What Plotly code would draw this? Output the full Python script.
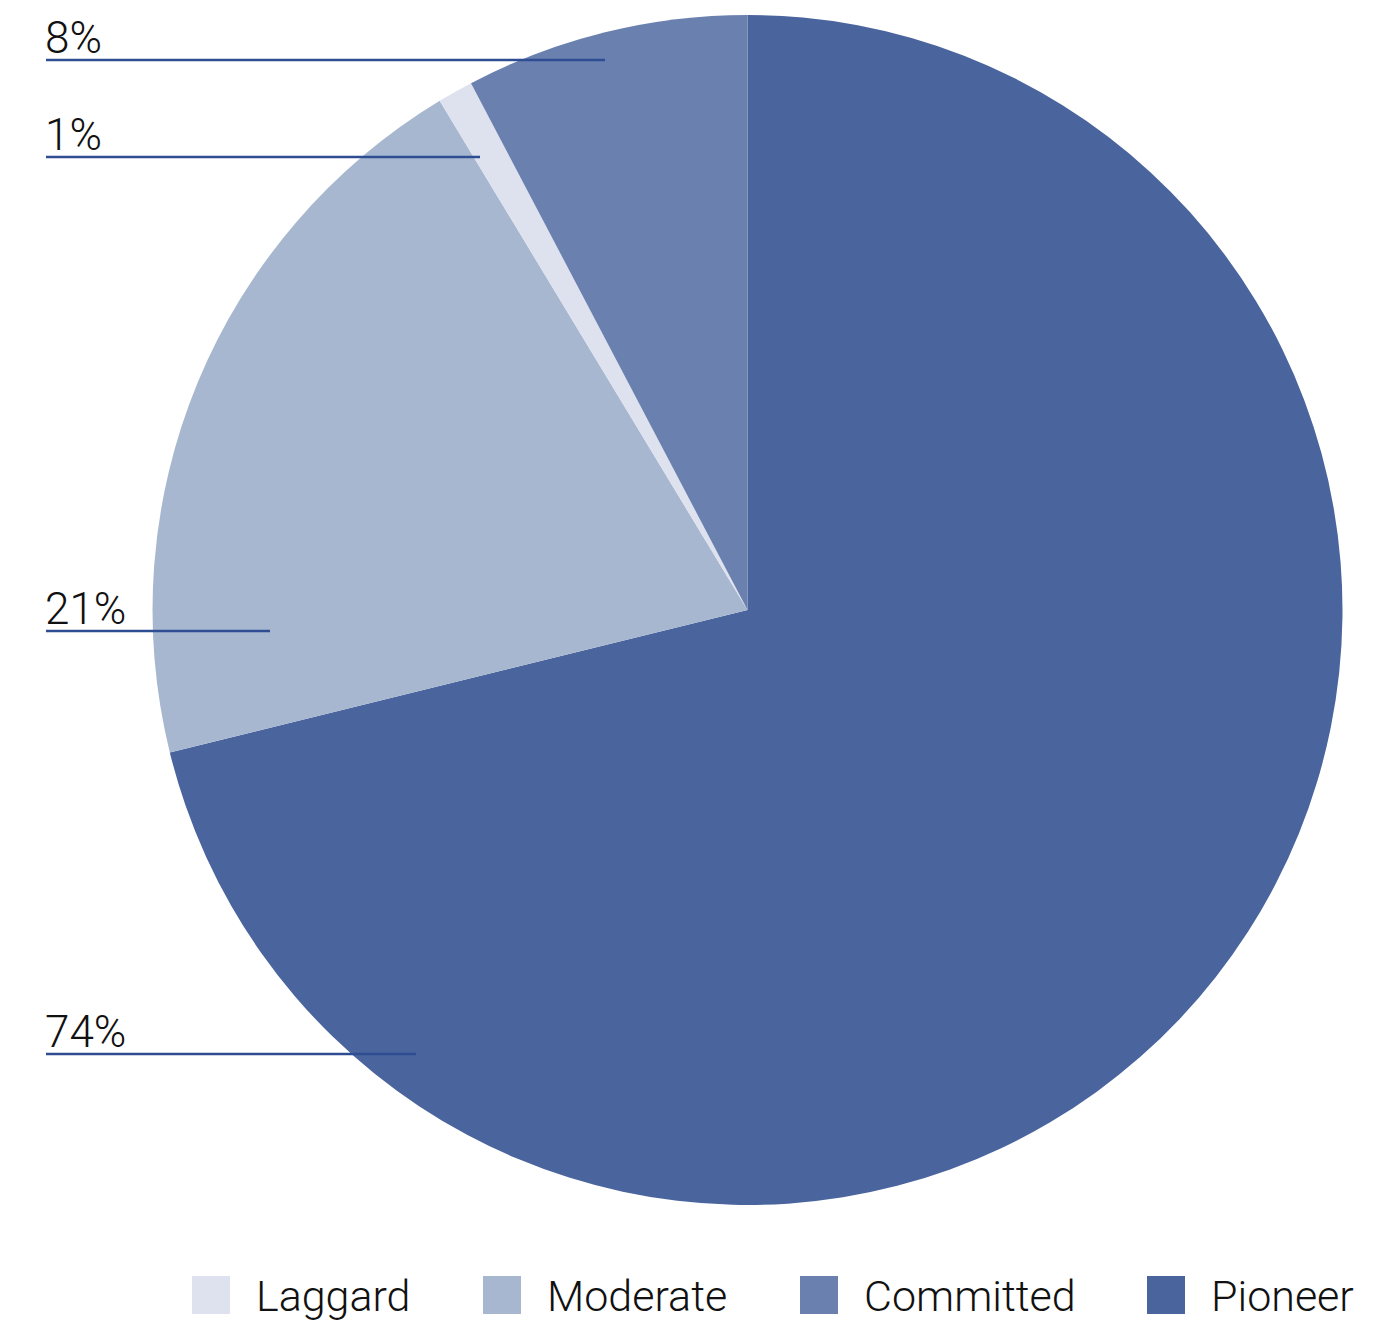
import plotly.graph_objects as go

# Share of companies by maturity segment (slices run clockwise from 12 o'clock)
segments = ["Pioneer", "Moderate", "Laggard", "Committed"]
shares = [74, 21, 1, 8]
colors = {
    "Laggard": "#dee2ee",
    "Moderate": "#a8b7d0",
    "Committed": "#6a80af",
    "Pioneer": "#4a659e",
}

# Legend order shown under the chart
legend_order = ["Laggard", "Moderate", "Committed", "Pioneer"]

W, H = 1373, 1323
FONT = "Roboto"
LINE_COLOR = "#2e4d93"


def px_x(x):
    return x / W


def px_y(y):
    return 1 - y / H


# Pie placement (pixel centre and radius)
cx, cy, r = 747.5, 610, 595

fig = go.Figure(
    go.Pie(
        labels=segments,
        values=shares,
        sort=False,
        direction="clockwise",
        rotation=0,
        marker=dict(colors=[colors[s] for s in segments], line=dict(width=0)),
        textinfo="none",
        hoverinfo="label+value",
        showlegend=False,
        domain=dict(
            x=[px_x(cx - r), px_x(cx + r)],
            y=[px_y(cy + r), px_y(cy - r)],
        ),
    )
)

# Leader lines for the percentage labels: label line height and inner end point (pixels)
label_line_y = {"Committed": 60, "Laggard": 157, "Moderate": 631, "Pioneer": 1054}
label_line_end = {"Committed": 605, "Laggard": 480, "Moderate": 270, "Pioneer": 416}
label_x = 46

shapes = []
annotations = []
for seg, val in zip(segments, shares):
    ly = label_line_y[seg]
    shapes.append(
        dict(
            type="line", xref="paper", yref="paper",
            x0=px_x(label_x), x1=px_x(label_line_end[seg]),
            y0=px_y(ly), y1=px_y(ly),
            line=dict(color=LINE_COLOR, width=2.5),
            layer="above",
        )
    )
    annotations.append(
        dict(
            text=f"{val}%", xref="paper", yref="paper",
            x=px_x(label_x - 3), y=px_y(ly + 6),
            xanchor="left", yanchor="bottom", showarrow=False,
            font=dict(family=FONT, size=44, color="#111111", weight=300),
        )
    )

# Custom legend with large square swatches
swatch_x = {"Laggard": 192, "Moderate": 483, "Committed": 800, "Pioneer": 1147}
swatch_size = 38
swatch_top = 1276
for seg in legend_order:
    sx = swatch_x[seg]
    shapes.append(
        dict(
            type="rect", xref="paper", yref="paper",
            x0=px_x(sx), x1=px_x(sx + swatch_size),
            y0=px_y(swatch_top + swatch_size), y1=px_y(swatch_top),
            fillcolor=colors[seg], line=dict(width=0),
        )
    )
    annotations.append(
        dict(
            text=seg, xref="paper", yref="paper",
            x=px_x(sx + swatch_size + 24), y=px_y(swatch_top + swatch_size / 2 + 1),
            xanchor="left", yanchor="middle", showarrow=False,
            font=dict(family=FONT, size=43, color="#111111", weight=300),
        )
    )

fig.update_layout(
    width=W,
    height=H,
    margin=dict(l=0, r=0, t=0, b=0),
    paper_bgcolor="white",
    plot_bgcolor="white",
    shapes=shapes,
    annotations=annotations,
    showlegend=False,
)

fig.write_html("out.html")
